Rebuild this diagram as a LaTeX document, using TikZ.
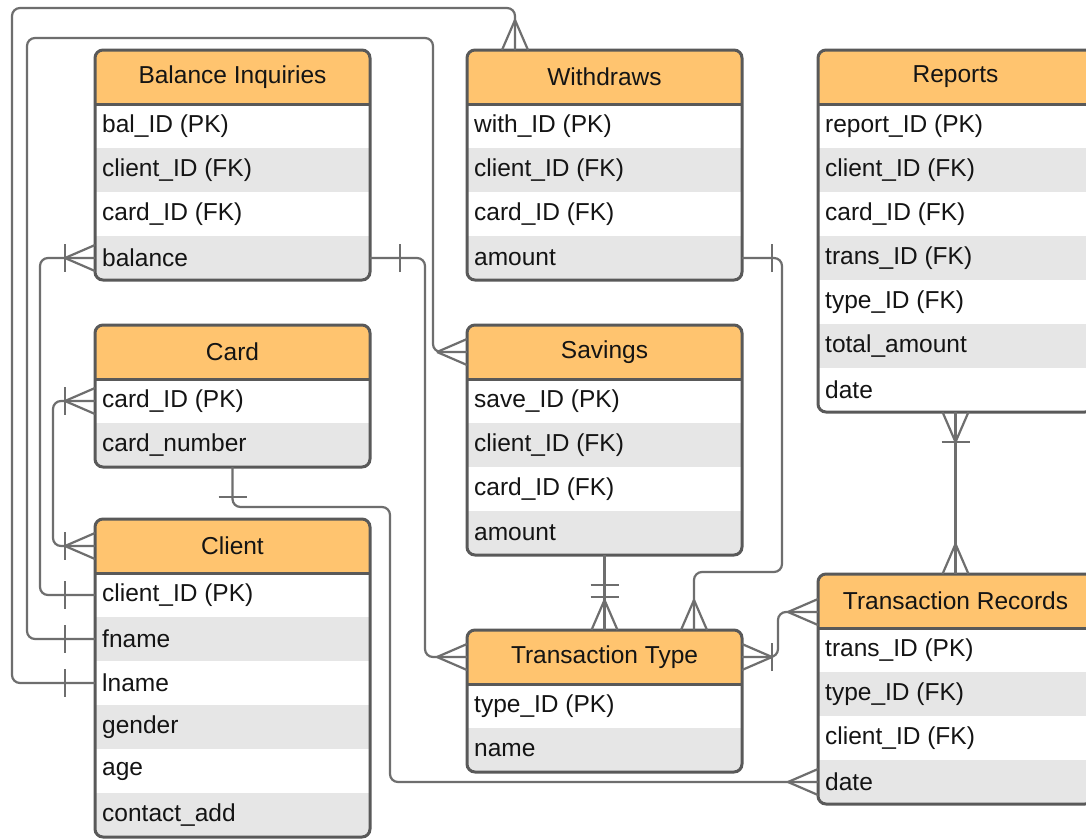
\documentclass[tikz,border=0pt]{standalone}
\usepackage{fontspec}
\setmainfont{Liberation Sans}
\definecolor{hdr}{HTML}{FFC46F}
\definecolor{rowgray}{HTML}{E6E6E6}
\definecolor{bord}{HTML}{595959}
\definecolor{lnk}{HTML}{6E6E6E}
\definecolor{txt}{HTML}{141414}
\tikzset{
 tbl/.style={draw=bord, line width=3pt, rounded corners=8pt, inner sep=0pt, outer sep=0pt},
 rowtext/.style={anchor=west, inner sep=0pt, text=txt, font=\fontsize{24.5}{29}\selectfont},
 hdrtext/.style={inner sep=0pt, text=txt, font=\fontsize{24.5}{29}\selectfont},
 conn/.style={draw=lnk, line width=2.2pt},
 link/.style={conn, rounded corners=8pt},
 pics/crow/.style={code={\draw[conn] (-30,0) -- (0,13) (-30,0) -- (0,-13);}},
 pics/bar/.style={code={\draw[conn] (-30,-14) -- (-30,14);}},
 pics/barfar/.style={code={\draw[conn] (-42,-14) -- (-42,14);}},
}
\newcommand{\ertable}[7]{%
 \pgfmathsetmacro\tblh{54+#5*44}%
 \begin{scope}
  \clip[rounded corners=8pt] (#2,#3) rectangle ++(#4,\tblh);
  \fill[hdr] (#2,#3) rectangle ++(#4,54);
  \foreach \r [count=\i] in {#7} {
    \pgfmathsetmacro\yy{#3+54+(\i-1)*44}
    \ifodd\i\relax \fill[white] (#2,\yy) rectangle ++(#4,44); \else \fill[rowgray] (#2,\yy) rectangle ++(#4,44); \fi
  }
 \end{scope}
 \draw[draw=bord, line width=3pt] (#2,#3+54) -- ++(#4,0);
 \node[tbl, minimum width=#4, minimum height=\tblh, anchor=north west] (#1) at (#2,#3) {};
 \node[hdrtext] (#1-h) at (#2+#4/2,#3+27) {#6};
 \foreach \r [count=\i] in {#7} {
   \node[rowtext] (#1-\i) at (#2+7,#3+54+\i*44-22) {\r};
 }
}
\begin{document}
\begin{tikzpicture}[x=1pt,y=-1pt]
\useasboundingbox[fill=white] (0,0) rectangle (1086,838);
\ertable{bi}{95}{50}{275}{4}{Balance Inquiries}{bal\_ID (PK),client\_ID (FK),card\_ID (FK),balance}
\ertable{wd}{467}{50}{275}{4}{Withdraws}{with\_ID (PK),client\_ID (FK),card\_ID (FK),amount}
\ertable{rp}{818}{50}{275}{7}{Reports}{report\_ID (PK),client\_ID (FK),card\_ID (FK),trans\_ID (FK),type\_ID (FK),total\_amount,date}
\ertable{cd}{95}{325}{275}{2}{Card}{card\_ID (PK),card\_number}
\ertable{sv}{467}{325}{275}{4}{Savings}{save\_ID (PK),client\_ID (FK),card\_ID (FK),amount}
\ertable{cl}{95}{519}{275}{6}{Client}{client\_ID (PK),fname,lname,gender,age,contact\_add}
\ertable{tt}{467}{630}{275}{2}{Transaction Type}{type\_ID (PK),name}
\ertable{tr}{818}{574}{275}{4}{Transaction Records}{trans\_ID (PK),type\_ID (FK),client\_ID (FK),date}

% connectors
\draw[link] ([xshift=-89.5]wd.north) |- (12,8) |- (cl.west |- cl-3);
\pic[rotate=-90] at ([xshift=-89.5]wd.north) {crow};
\pic at (cl.west |- cl-3) {bar};

\draw[link] (sv.west |- sv-h) -- ++(-34,0) |- (27,38) |- (cl.west |- cl-2);
\pic at (sv.west |- sv-h) {crow};
\pic at (cl.west |- cl-2) {bar};

\draw[link] (bi.west |- bi-4) -- ++(-55,0) |- (cl.west |- cl-1);
\pic at (bi.west |- bi-4) {crow};
\pic at (bi.west |- bi-4) {bar};
\pic at (cl.west |- cl-1) {bar};

\draw[link] (cd.west |- cd-1) -- ++(-42,0) |- (cl.west |- cl-h);
\pic at (cd.west |- cd-1) {crow};
\pic at (cd.west |- cd-1) {bar};
\pic at (cl.west |- cl-h) {crow};
\pic at (cl.west |- cl-h) {bar};

\draw[link] (tt.west |- tt-h) -- ++(-42,0) |- (bi.east |- bi-4);
\pic[rotate=180] at (bi.east |- bi-4) {bar};
\pic at (tt.west |- tt-h) {crow};

\draw[link] (tr.west |- tr-4) -- ++(-428,0) |- ([yshift=-40]cd.south) -- (cd.south);
\pic[rotate=90] at (cd.south) {bar};
\pic at (tr.west |- tr-4) {crow};

\draw[link] (wd.east |- wd-4) -- ++(40,0) |- ([xshift=89.5,yshift=58]tt.north) -- ([xshift=89.5]tt.north);
\pic[rotate=180] at (wd.east |- wd-4) {bar};
\pic[rotate=-90] at ([xshift=89.5]tt.north) {crow};

\draw[link] (sv.south) -- (tt.north);
\pic[rotate=90] at (sv.south) {bar};
\pic[rotate=90] at (sv.south) {barfar};
\pic[rotate=-90] at (tt.north) {crow};

\path (tr.west |- tr-h) coordinate (trh);
\draw[link] (tt.east |- tt-h) -- ++(36,0) |- ([yshift=-11]trh);
\pic[rotate=180] at (tt.east |- tt-h) {crow};
\pic[rotate=180] at (tt.east |- tt-h) {bar};
\pic at ([yshift=-11]trh) {crow};

\draw[link] (rp.south) -- (tr.north);
\pic[rotate=90] at (rp.south) {crow};
\pic[rotate=90] at (rp.south) {bar};
\pic[rotate=-90] at (tr.north) {crow};
\end{tikzpicture}
\end{document}
